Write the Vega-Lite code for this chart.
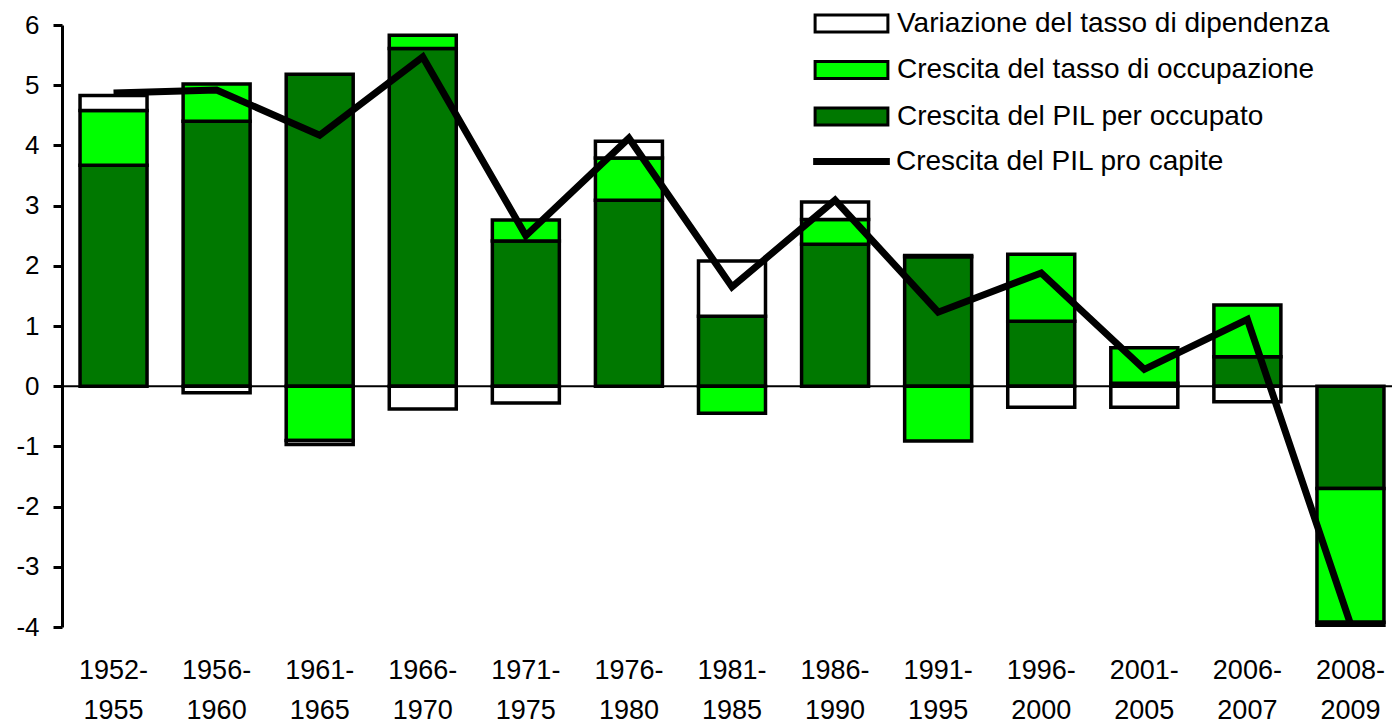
{
  "$schema": "https://vega.github.io/schema/vega-lite/v6.json",
  "width": 1340,
  "height": 602,
  "autosize": {"type": "none"},
  "padding": {"left": 62, "top": 25, "right": 0, "bottom": 96},
  "background": "white",
  "config": {
    "view": {"stroke": null},
    "font": "Liberation Sans",
    "axis": {"labelFont": "Liberation Sans", "labelColor": "black", "grid": false, "title": null},
    "legend": {"labelFont": "Liberation Sans", "labelColor": "black"}
  },
  "data": {
    "values": [
      {"periodo": "1952-1955", "serie": "Crescita del PIL per occupato", "valore": 3.67},
      {"periodo": "1952-1955", "serie": "Crescita del tasso di occupazione", "valore": 0.91},
      {"periodo": "1952-1955", "serie": "Variazione del tasso di dipendenza", "valore": 0.25},
      {"periodo": "1952-1955", "serie": "Crescita del PIL pro capite", "valore": 4.87},
      {"periodo": "1956-1960", "serie": "Crescita del PIL per occupato", "valore": 4.40},
      {"periodo": "1956-1960", "serie": "Crescita del tasso di occupazione", "valore": 0.62},
      {"periodo": "1956-1960", "serie": "Variazione del tasso di dipendenza", "valore": -0.11},
      {"periodo": "1956-1960", "serie": "Crescita del PIL pro capite", "valore": 4.92},
      {"periodo": "1961-1965", "serie": "Crescita del PIL per occupato", "valore": 5.18},
      {"periodo": "1961-1965", "serie": "Crescita del tasso di occupazione", "valore": -0.90},
      {"periodo": "1961-1965", "serie": "Variazione del tasso di dipendenza", "valore": -0.07},
      {"periodo": "1961-1965", "serie": "Crescita del PIL pro capite", "valore": 4.17},
      {"periodo": "1966-1970", "serie": "Crescita del PIL per occupato", "valore": 5.61},
      {"periodo": "1966-1970", "serie": "Crescita del tasso di occupazione", "valore": 0.22},
      {"periodo": "1966-1970", "serie": "Variazione del tasso di dipendenza", "valore": -0.38},
      {"periodo": "1966-1970", "serie": "Crescita del PIL pro capite", "valore": 5.47},
      {"periodo": "1971-1975", "serie": "Crescita del PIL per occupato", "valore": 2.41},
      {"periodo": "1971-1975", "serie": "Crescita del tasso di occupazione", "valore": 0.35},
      {"periodo": "1971-1975", "serie": "Variazione del tasso di dipendenza", "valore": -0.28},
      {"periodo": "1971-1975", "serie": "Crescita del PIL pro capite", "valore": 2.50},
      {"periodo": "1976-1980", "serie": "Crescita del PIL per occupato", "valore": 3.09},
      {"periodo": "1976-1980", "serie": "Crescita del tasso di occupazione", "valore": 0.70},
      {"periodo": "1976-1980", "serie": "Variazione del tasso di dipendenza", "valore": 0.28},
      {"periodo": "1976-1980", "serie": "Crescita del PIL pro capite", "valore": 4.12},
      {"periodo": "1981-1985", "serie": "Crescita del PIL per occupato", "valore": 1.16},
      {"periodo": "1981-1985", "serie": "Crescita del tasso di occupazione", "valore": -0.45},
      {"periodo": "1981-1985", "serie": "Variazione del tasso di dipendenza", "valore": 0.92},
      {"periodo": "1981-1985", "serie": "Crescita del PIL pro capite", "valore": 1.65},
      {"periodo": "1986-1990", "serie": "Crescita del PIL per occupato", "valore": 2.36},
      {"periodo": "1986-1990", "serie": "Crescita del tasso di occupazione", "valore": 0.41},
      {"periodo": "1986-1990", "serie": "Variazione del tasso di dipendenza", "valore": 0.29},
      {"periodo": "1986-1990", "serie": "Crescita del PIL pro capite", "valore": 3.09},
      {"periodo": "1991-1995", "serie": "Crescita del PIL per occupato", "valore": 2.15},
      {"periodo": "1991-1995", "serie": "Crescita del tasso di occupazione", "valore": -0.91},
      {"periodo": "1991-1995", "serie": "Variazione del tasso di dipendenza", "valore": 0.02},
      {"periodo": "1991-1995", "serie": "Crescita del PIL pro capite", "valore": 1.23},
      {"periodo": "1996-2000", "serie": "Crescita del PIL per occupato", "valore": 1.08},
      {"periodo": "1996-2000", "serie": "Crescita del tasso di occupazione", "valore": 1.11},
      {"periodo": "1996-2000", "serie": "Variazione del tasso di dipendenza", "valore": -0.35},
      {"periodo": "1996-2000", "serie": "Crescita del PIL pro capite", "valore": 1.88},
      {"periodo": "2001-2005", "serie": "Crescita del PIL per occupato", "valore": 0.05},
      {"periodo": "2001-2005", "serie": "Crescita del tasso di occupazione", "valore": 0.59},
      {"periodo": "2001-2005", "serie": "Variazione del tasso di dipendenza", "valore": -0.35},
      {"periodo": "2001-2005", "serie": "Crescita del PIL pro capite", "valore": 0.28},
      {"periodo": "2006-2007", "serie": "Crescita del PIL per occupato", "valore": 0.49},
      {"periodo": "2006-2007", "serie": "Crescita del tasso di occupazione", "valore": 0.86},
      {"periodo": "2006-2007", "serie": "Variazione del tasso di dipendenza", "valore": -0.26},
      {"periodo": "2006-2007", "serie": "Crescita del PIL pro capite", "valore": 1.11},
      {"periodo": "2008-2009", "serie": "Crescita del PIL per occupato", "valore": -1.70},
      {"periodo": "2008-2009", "serie": "Crescita del tasso di occupazione", "valore": -2.22},
      {"periodo": "2008-2009", "serie": "Variazione del tasso di dipendenza", "valore": -0.05},
      {"periodo": "2008-2009", "serie": "Crescita del PIL pro capite", "valore": -3.95}
    ]
  },
  "layer": [
    {
      "data": {"values": [{"zero": 0}]},
      "mark": {"type": "rule", "color": "black", "strokeWidth": 2},
      "encoding": {"y": {"field": "zero", "type": "quantitative"}}
    },
    {
      "transform": [{"filter": "datum.serie !== 'Crescita del PIL pro capite'"}],
      "mark": {"type": "bar", "stroke": "black", "strokeWidth": 3.5, "strokeJoin": "miter"},
      "encoding": {
        "x": {
          "field": "periodo", "type": "nominal", "sort": null,
          "scale": {"paddingInner": 0.35, "paddingOuter": 0.175},
          "axis": {
            "domain": false, "ticks": false, "tickSize": 0, "labelAngle": 0,
            "labelFontSize": 27, "labelPadding": 30, "labelLineHeight": 40,
            "labelBaseline": "top",
            "labelExpr": "[slice(datum.value, 0, 5), slice(datum.value, 5)]"
          }
        },
        "y": {
          "field": "valore", "type": "quantitative", "stack": "zero",
          "scale": {"domain": [-4, 6], "nice": false},
          "axis": {
            "values": [-4, -3, -2, -1, 0, 1, 2, 3, 4, 5, 6],
            "labelExpr": "toString(datum.value)",
            "domain": true, "domainColor": "black", "domainWidth": 3,
            "ticks": true, "tickColor": "black", "tickWidth": 3, "tickSize": 9,
            "labelFontSize": 26, "labelPadding": 14
          }
        },
        "fill": {
          "field": "serie", "type": "nominal",
          "scale": {
            "domain": ["Variazione del tasso di dipendenza", "Crescita del tasso di occupazione", "Crescita del PIL per occupato"],
            "range": ["#ffffff", "#00ff00", "#007800"]
          },
          "legend": {
            "orient": "none", "legendX": 775, "legendY": -16, "title": null,
            "symbolSize": 676, "symbolType": "M-2.8,-0.66H2.8V0.66H-2.8Z",
            "symbolStrokeColor": "black", "symbolStrokeWidth": 3, "symbolOpacity": 1,
            "labelFontSize": 28, "labelOffset": 31,
            "rowPadding": 15.5, "labelLimit": 0, "padding": 0
          }
        },
        "order": {"field": "serie", "sort": "ascending"}
      }
    },
    {
      "transform": [{"filter": "datum.serie === 'Crescita del PIL pro capite'"}],
      "mark": {"type": "line", "strokeWidth": 7, "strokeJoin": "miter"},
      "encoding": {
        "x": {"field": "periodo", "type": "nominal", "sort": null},
        "y": {"field": "valore", "type": "quantitative"},
        "stroke": {
          "field": "serie", "type": "nominal",
          "scale": {"domain": ["Crescita del PIL pro capite"], "range": ["#000000"]},
          "legend": {
            "orient": "none", "legendX": 773, "legendY": 120, "title": null,
            "symbolSize": 676, "symbolType": "M-2.95,0H2.95",
            "symbolStrokeWidth": 7, "symbolOpacity": 1,
            "labelFontSize": 28, "labelOffset": 28, "labelLimit": 0, "padding": 0
          }
        }
      }
    }
  ]
}
